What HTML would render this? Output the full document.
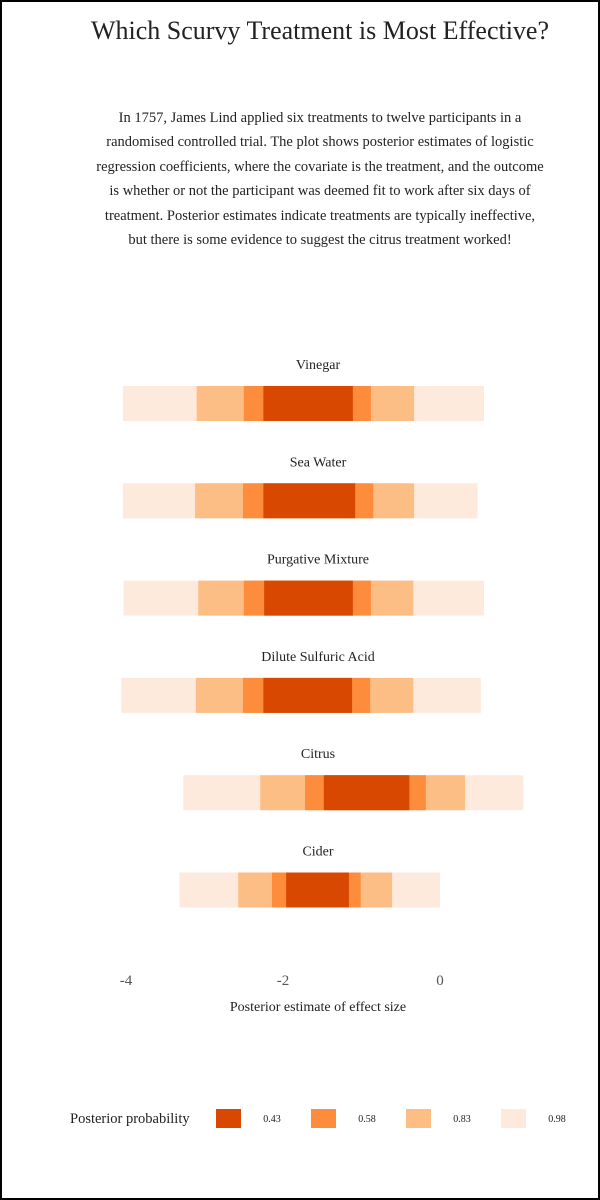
<!DOCTYPE html>
<html><head><meta charset="utf-8"><style>
html,body{margin:0;padding:0;background:#fff;}
#page{position:relative;width:596px;height:1196px;border:2px solid #000;overflow:hidden;font-family:"Liberation Serif",serif;color:#222;}
#title{position:absolute;top:14px;left:18px;width:600px;text-align:center;font-size:26px;}
#subtitle{position:absolute;top:104px;left:48px;width:540px;text-align:center;font-size:14.5px;line-height:24.4px;color:#222;}
svg{position:absolute;left:0;top:0;}
</style></head><body>
<div id="page">
<div id="title">Which Scurvy Treatment is Most Effective?</div>
<div id="subtitle">In 1757, James Lind applied six treatments to twelve participants in a<br>randomised controlled trial. The plot shows posterior estimates of logistic<br>regression coefficients, where the covariate is the treatment, and the outcome<br>is whether or not the participant was deemed fit to work after six days of<br>treatment. Posterior estimates indicate treatments are typically ineffective,<br>but there is some evidence to suggest the citrus treatment worked!</div>
<svg id="chart" width="596" height="1196"></svg>
</div>
<script>
const categories=["Vinegar","Sea Water","Purgative Mixture","Dilute Sulfuric Acid","Citrus","Cider"];
const lo98=[-4.04,-4.04,-4.03,-4.06,-3.27,-3.32];
const lo83=[-3.10,-3.12,-3.08,-3.11,-2.29,-2.57];
const lo58=[-2.50,-2.51,-2.50,-2.51,-1.72,-2.14];
const lo43=[-2.25,-2.25,-2.24,-2.25,-1.48,-1.96];
const hi43=[-1.11,-1.08,-1.11,-1.12,-0.39,-1.16];
const hi58=[-0.88,-0.85,-0.88,-0.89,-0.18,-1.01];
const hi83=[-0.33,-0.33,-0.34,-0.34,0.32,-0.61];
const hi98=[0.56,0.48,0.56,0.52,1.06,0.00];
const ticks=[-4,-2,0];
const levels=["0.43","0.58","0.83","0.98"];
const colors=["#d94801","#fd8d3c","#fdbe85","#feeadc"];
const NS="http://www.w3.org/2000/svg";
const svg=document.getElementById('chart');
const off=-2;
const x=v=>440+off+v*78.5;
const yBand=i=>384+i*97.3;
function mk(t,a){const e=document.createElementNS(NS,t);for(const k in a)e.setAttribute(k,a[k]);svg.appendChild(e);return e;}
const los=[lo98,lo83,lo58,lo43],his=[hi98,hi83,hi58,hi43];
categories.forEach((c,i)=>{
  const t=mk('text',{x:316,y:yBand(i)-17,'text-anchor':'middle','font-size':'14','fill':'#222'});
  t.textContent=c;
  
  
  for(let k=0;k<4;k++){
    const r=mk('rect',{x:x(los[k][i]),y:yBand(i),width:x(his[k][i])-x(los[k][i]),height:35,fill:colors[3-k]});
    
    
  }
});
ticks.forEach(v=>{
  const t=mk('text',{x:x(v),y:983,'text-anchor':'middle','font-size':'15','fill':'#555'});
  t.textContent=v<0?'-'+Math.abs(v):String(v);
  
  
});
const xt=mk('text',{x:316,y:1009,'text-anchor':'middle','font-size':'14','fill':'#222'});
xt.textContent='Posterior estimate of effect size';


const lt=mk('text',{x:68,y:1121,'font-size':'14.5','fill':'#222'});
lt.textContent='Posterior probability';


levels.forEach((l,k)=>{
  const sx=214+k*95;
  const r=mk('rect',{x:sx,y:1107,width:25,height:19,fill:colors[k]});
  
  
  const t=mk('text',{x:sx+56,y:1120,'text-anchor':'middle','font-size':'10','fill':'#222'});
  t.textContent=l;
  
  
});
</script>
</body></html>
